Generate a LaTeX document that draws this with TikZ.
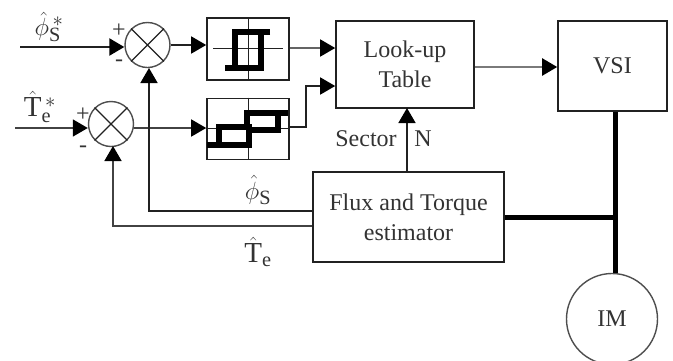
\documentclass[tikz,border=0pt]{standalone}
\usepackage{fontspec}
\setmainfont{Liberation Serif}
\usetikzlibrary{arrows.meta}
\definecolor{ink}{gray}{0.13}
\definecolor{txt}{gray}{0.2}
\newcommand{\lbfont}{\fontsize{24}{30}\selectfont}
\tikzset{
  x=1pt,y=-1pt,
  blockbox/.style={draw=ink,line width=1.6pt,minimum width=#1,inner sep=0pt,align=center,text=txt,font=\lbfont},
  sumnode/.style={draw=ink!80,circle,line width=1.4pt,minimum size=45pt,inner sep=0pt},
  wire/.style={draw=ink,line width=1.6pt},
  flow/.style={wire,-{Triangle[length=15pt,width=17pt,color=black]}},
  thickbus/.style={draw=black,line width=5pt},
  relay/.style={draw=black,line width=5.5pt,line join=miter},
  lab/.style={text=txt,inner sep=0pt,font=\lbfont},
  sym/.style={text=txt,inner sep=0pt,font=\fontsize{29}{30}\selectfont}
}
\begin{document}
\begin{tikzpicture}
\useasboundingbox (0,0) rectangle (673,360);
% sums
\node[sumnode] (s1) at (147.5,45) {};
\node[sumnode] (s2) at (111,124) {};
\draw[ink,line width=1.1pt] (s1.north west)--(s1.south east) (s1.north east)--(s1.south west);
\draw[ink,line width=1.1pt] (s2.north west)--(s2.south east) (s2.north east)--(s2.south west);
% comparator boxes
\node[blockbox=82pt,minimum height=62pt] (h1) at (248,49) {};
\node[blockbox=82pt,minimum height=61pt] (h2) at (248,129) {};
\draw[ink,line width=1pt] (h1.north)--(h1.south) (h2.north)--(h2.south);
\draw[ink,line width=1pt] (213,48)--(283,48);
\draw[ink,line width=1pt] (207,128)--(289,128);
\draw[relay] (225,68)--(261,68)--(261,33) (270,32)--(235,32)--(235,70);
\draw[relay] (207,145)--(249,145)--(249,127)--(219,127)--(219,145);
\draw[relay] (247,130)--(247,113)--(288,113) (247,130)--(278,130)--(278,113);
% blocks
\node[blockbox=138pt,minimum height=87pt] (lut) at (405,64.5) {Look-up\\Table};
\node[blockbox=109pt,minimum height=90pt] (vsi) at (612.5,66) {VSI};
\node[blockbox=191pt,minimum height=90pt] (est) at (408.5,217) {Flux and Torque\\estimator};
\node[draw=ink!80,circle,line width=1.4pt,minimum size=91pt,inner sep=0pt,text=txt,font=\lbfont] (im) at (612,319) {IM};
% free ends
\coordinate (in1) at (20,47);
\coordinate (in2) at (15,128);
\coordinate (e1) at (est.west |- 0,211);
\coordinate (e2) at (est.west |- 0,226);
\coordinate (j) at (615,217);
% inputs
\draw[flow,line width=2.4pt] (in1)--(s1.west |- in1);
\draw[flow,draw=ink!85] (in2)--(s2.west |- in2);
\draw[flow] (s1.east)--(h1.west |- s1.east);
\draw[flow,draw=ink!85] (s2.east |- in2)--(h2.west |- in2);
\draw[flow,draw=ink!70] (h1.east |- 0,48)--(lut.west |- 0,48);
\draw[flow] (h2.east |- 0,127)--(306,127)--(306,86)--(lut.west |- 0,86);
\draw[flow,draw=ink!60,line width=2.2pt] (lut.east |- 0,67)--(vsi.west |- 0,67);
\draw[flow] (407,172)--(407,108);
\draw[flow] (e1)--(149,211)--(149,68);
\draw[flow,draw=ink!85] (e2)--(113,226)--(113,146);
% bus
\draw[thickbus] (vsi.south -| j)--(im.north -| j);
\draw[thickbus] (est.east |- j)--(j);
% labels
\node[sym] at (49,27) {$\hat{\phi}^{\,*}_{\mathrm{S}}$};
\node[sym] at (40,107) {$\hat{\mathrm{T}}^{\,*}_{\mathrm{e}}$};
\node[lab] at (119,31) {+};
\node[lab] at (119,63) {-};
\node[lab] at (83,115) {+};
\node[lab] at (83,149) {-};
\node[lab] at (366,139) {Sector};
\node[lab] at (423,139) {N};
\node[sym] at (258,190) {$\hat{\phi}_{\mathrm{S}}$};
\node[sym] at (258,252) {$\hat{\mathrm{T}}_{\mathrm{e}}$};
\end{tikzpicture}
\end{document}
